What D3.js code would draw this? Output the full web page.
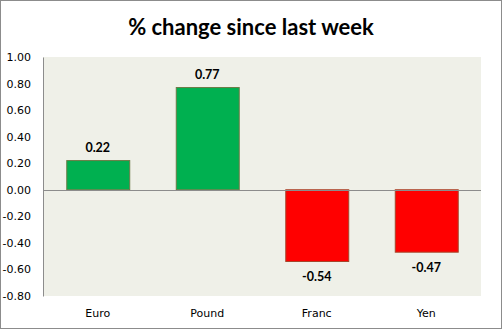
<!DOCTYPE html>
<html>
<head>
<meta charset="utf-8">
<script src="https://cdn.jsdelivr.net/npm/d3@7"></script>
<style>
  html, body { margin: 0; padding: 0; background: #fff; }
  svg { display: block; }
</style>
</head>
<body>
<svg id="chart" width="502" height="329"></svg>
<script>
// Weekly % change per currency
const categories = ["Euro", "Pound", "Franc", "Yen"];
const values = [0.22, 0.77, -0.54, -0.47];
const tickValues = [1.0, 0.8, 0.6, 0.4, 0.2, 0.0, -0.2, -0.4, -0.6, -0.8];
const title = "% change since last week";

const W = 502, H = 329;
const plot = { left: 43, right: 481, top: 57, bottom: 296 };

// plain hyphen for negative numbers
const fmt = d3.formatLocale({
  decimal: ".", thousands: ",", grouping: [3], currency: ["", ""], minus: "-"
}).format(".2f");

const svg = d3.select("#chart");

// outer frame
svg.append("rect")
  .attr("x", 0.5).attr("y", 0.5)
  .attr("width", W - 1).attr("height", H - 1)
  .attr("fill", "#fff").attr("stroke", "#8c8c8c");

// title
svg.append("text")
  .attr("x", 251).attr("y", 35)
  .attr("text-anchor", "middle")
  .attr("font-family", "Lato, 'Open Sans', sans-serif")
  .attr("font-weight", "bold")
  .attr("font-size", 22)
  .attr("fill", "#000")
  .text(title);

const x = d3.scaleBand()
  .domain(categories)
  .range([plot.left, plot.right])
  .paddingInner(0.425)
  .paddingOuter(0.2125);

const y = d3.scaleLinear()
  .domain([-0.8, 1.0])
  .range([plot.bottom, plot.top]);

// plot background
svg.append("rect")
  .attr("x", plot.left).attr("y", plot.top)
  .attr("width", plot.right - plot.left)
  .attr("height", plot.bottom - plot.top)
  .attr("fill", "#eff0e8");

// y axis
const yAxis = d3.axisLeft(y)
  .tickValues(tickValues)
  .tickFormat(fmt)
  .tickSize(0)
  .tickPadding(12);

const gy = svg.append("g")
  .attr("transform", `translate(${plot.left},0)`)
  .call(yAxis);
gy.select(".domain").attr("stroke", "#8c8c8c");
gy.selectAll("text")
  .attr("font-family", "Tahoma, 'DejaVu Sans', sans-serif")
  .attr("font-size", 11)
  .attr("fill", "#000");

// bars
const barColor = v => v >= 0 ? "#00b050" : "#ff0000";
const barStroke = v => v >= 0 ? "#6b7a45" : "#a5452a";

svg.append("g").selectAll("rect")
  .data(values)
  .join("rect")
  .attr("x", (d, i) => x(categories[i]) + 0.5)
  .attr("y", d => y(Math.max(0, d)))
  .attr("width", x.bandwidth())
  .attr("height", d => Math.abs(y(d) - y(0)))
  .attr("fill", barColor)
  .attr("stroke", barStroke)
  .attr("stroke-width", 1);

// zero line
svg.append("line")
  .attr("x1", plot.left).attr("x2", plot.right)
  .attr("y1", Math.round(y(0)) + 0.5).attr("y2", Math.round(y(0)) + 0.5)
  .attr("stroke", "#8c8c8c");

// value labels
svg.append("g").selectAll("text")
  .data(values)
  .join("text")
  .attr("x", (d, i) => x(categories[i]) + x.bandwidth() / 2)
  .attr("y", d => d >= 0 ? y(d) - 9 : y(d) + 20)
  .attr("text-anchor", "middle")
  .attr("font-family", "Lato, 'Open Sans', sans-serif")
  .attr("font-weight", "bold")
  .attr("font-size", 12.5)
  .attr("fill", "#000")
  .text(d => fmt(d));

// category labels
svg.append("g").selectAll("text")
  .data(categories)
  .join("text")
  .attr("x", d => x(d) + x.bandwidth() / 2)
  .attr("y", 317)
  .attr("text-anchor", "middle")
  .attr("font-family", "Tahoma, 'DejaVu Sans', sans-serif")
  .attr("font-size", 11)
  .attr("fill", "#000")
  .text(d => d);
</script>
</body>
</html>
